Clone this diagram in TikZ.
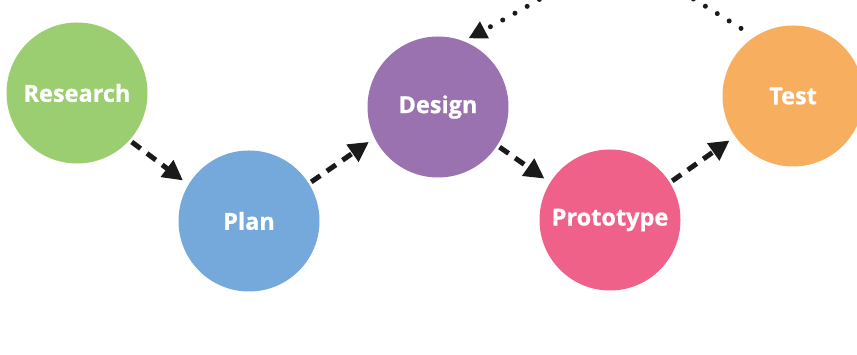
\documentclass[tikz,border=0pt]{standalone}
\usepackage{fontspec}
\setmainfont{Open Sans}[BoldFeatures={FakeBold=0.8}]
\usetikzlibrary{arrows.meta}
\definecolor{cres}{HTML}{9BCE70}
\definecolor{cplan}{HTML}{75A9DB}
\definecolor{cdes}{HTML}{9A72B0}
\definecolor{cproto}{HTML}{EF6188}
\definecolor{ctest}{HTML}{F7AE5E}
\definecolor{ink}{HTML}{1A1A1A}
\begin{document}
\begin{tikzpicture}[x=1pt,y=1pt,
  stage/.style={circle, minimum size=141pt, inner sep=0pt, outer sep=0pt, fill=#1, text=white,
    font=\fontsize{23.5}{28}\selectfont\bfseries},
  flow/.style={draw=ink, line width=5pt, dash pattern=on 11pt off 8pt,
    -{Triangle[length=20pt,width=20pt]}, shorten <=3pt, shorten >=7pt},
  loopback/.style={draw=ink, line width=5pt, line cap=round, dash pattern=on 0pt off 14pt,
    -{Triangle[length=18pt,width=18pt]}}]
\useasboundingbox (0,0) rectangle (857,355);
\clip (0,0) rectangle (857,355);
\fill[white] (0,0) rectangle (857,355);
\node[stage=cres]   (research) at (77,262)  {Research};
\node[stage=cplan]  (plan)     at (249,134) {Plan};
\node[stage=cdes]   (design)   at (438,248) {Design};
\node[stage=cproto] (proto)    at (610,135) {Prototype};
\node[stage=ctest]  (test)     at (793,259) {Test};
\draw[flow] (research.-42) -- (plan.149);
\draw[flow] (plan.32) -- (design.206);
\draw[flow] (design.-33) -- (proto.148);
\draw[flow] (proto.32) -- (test.215);
\draw[loopback, shorten <=16pt, shorten >=6pt] (test.123) to[out=148,in=28,looseness=1.6] (design.69);
\end{tikzpicture}
\end{document}
